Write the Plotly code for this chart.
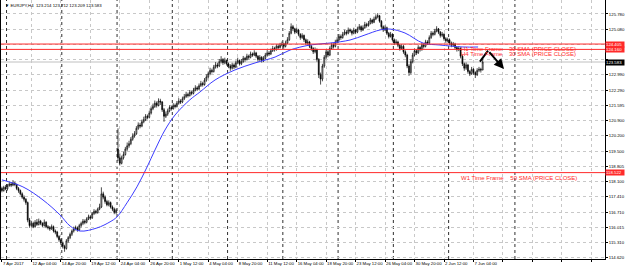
import plotly.graph_objects as go

# ---------------- data (EURJPY H4) ----------------
opens = [117.80,117.70,117.85,117.78,117.92,118.00,117.95,118.05,117.98,117.80,
117.70,117.55,117.40,117.30,117.15,116.35,116.10,116.20,116.05,116.25,
116.15,116.30,116.20,116.10,116.25,116.05,116.00,115.95,116.05,115.85,
115.80,115.60,115.45,115.30,115.15,115.05,115.40,115.55,115.70,115.85,
115.95,116.00,115.90,116.10,116.20,116.30,116.25,116.40,116.50,116.45,
116.65,116.75,116.70,116.85,116.95,117.55,117.40,117.20,117.05,117.15,
116.95,116.85,116.70,119.60,119.20,118.95,119.20,119.35,119.60,119.75,
119.85,120.05,120.20,120.30,120.55,120.70,120.65,120.85,120.95,121.10,
121.05,121.25,121.45,121.55,121.70,121.60,121.80,121.75,121.40,121.10,
121.20,121.35,121.50,121.45,121.60,121.55,121.70,121.80,121.75,121.90,
122.00,122.10,122.05,122.20,122.15,122.30,122.40,122.35,122.50,122.60,
122.55,122.75,122.90,123.05,123.20,123.15,123.35,123.45,123.40,123.60,
123.70,123.55,123.65,123.50,123.40,123.30,123.45,123.35,123.55,123.65,
123.50,123.60,123.75,123.70,123.85,123.80,123.95,123.90,124.00,123.85,
123.70,123.80,123.65,123.75,123.90,124.00,123.95,124.10,124.20,124.15,
124.30,124.25,124.35,124.40,124.30,124.45,124.60,124.90,125.20,125.10,
124.95,125.05,124.85,124.70,124.80,124.60,124.45,124.50,124.30,124.20,
124.05,124.15,123.70,123.00,122.80,123.40,123.80,124.05,123.90,124.20,
124.35,124.30,124.50,124.60,124.75,124.70,124.85,124.95,124.90,125.05,
125.00,124.90,125.05,124.95,125.10,125.20,125.05,125.15,125.30,125.25,
125.35,125.50,125.40,125.55,125.65,125.70,125.45,125.20,125.05,125.15,
124.90,124.75,124.85,124.60,124.45,124.50,124.35,124.20,124.30,124.05,
123.90,123.40,123.10,123.60,123.90,124.10,124.00,124.25,124.15,124.35,
124.30,124.50,124.45,124.70,124.90,124.85,125.00,125.10,124.95,124.80,
124.85,124.65,124.55,124.60,124.45,124.35,124.40,124.25,124.15,124.20,
123.85,123.50,123.30,123.45,123.15,123.05,123.25,123.10,123.00,123.20,
123.25,123.214]

highs = [117.88,117.92,117.95,118.00,118.10,118.08,118.18,118.10,118.02,117.86,
117.75,117.62,117.48,117.36,117.20,116.45,116.32,116.28,116.35,116.40,
116.42,116.36,116.25,116.38,116.30,116.12,116.08,116.15,116.10,115.92,
115.86,115.66,115.52,115.38,115.22,115.48,115.62,115.78,115.92,116.05,
116.10,116.06,116.18,116.28,116.40,116.38,116.48,116.60,116.58,116.72,
116.85,116.82,116.92,117.10,117.85,117.65,117.48,117.28,117.25,117.20,
117.02,116.92,116.88,120.55,119.40,119.30,119.48,119.70,119.90,119.98,
120.15,120.32,120.42,120.65,120.82,120.80,120.95,121.08,121.20,121.18,
121.35,121.55,121.68,121.82,121.78,121.92,121.90,121.80,121.48,121.32,
121.45,121.60,121.58,121.70,121.68,121.80,121.92,121.88,122.00,122.12,
122.22,122.18,122.30,122.28,122.40,122.52,122.48,122.60,122.72,122.68,
122.85,123.02,123.15,123.32,123.28,123.45,123.58,123.55,123.72,123.85,
123.76,123.78,123.70,123.56,123.48,123.55,123.52,123.65,123.78,123.70,
123.72,123.86,123.82,123.96,123.92,124.06,124.02,124.12,124.05,123.90,
123.90,123.85,123.85,124.00,124.12,124.08,124.20,124.32,124.28,124.40,
124.38,124.46,124.52,124.46,124.56,124.72,125.00,125.35,125.28,125.15,
125.16,125.10,124.90,124.90,124.84,124.66,124.62,124.55,124.36,124.26,
124.25,124.20,123.76,123.10,123.50,123.90,124.15,124.12,124.30,124.46,
124.44,124.60,124.72,124.86,124.84,124.96,125.06,125.04,125.16,125.12,
125.06,125.15,125.10,125.20,125.32,125.26,125.26,125.42,125.38,125.46,
125.60,125.56,125.66,125.76,125.82,125.74,125.50,125.26,125.26,125.20,
124.96,124.96,124.90,124.66,124.62,124.56,124.40,124.40,124.36,124.12,
123.96,123.48,123.70,124.00,124.20,124.16,124.35,124.30,124.46,124.44,
124.60,124.58,124.80,125.00,124.98,125.10,125.22,125.14,125.00,124.96,
124.90,124.72,124.70,124.66,124.52,124.50,124.46,124.30,124.30,124.26,
123.92,123.56,123.56,123.50,123.22,123.36,123.30,123.16,123.30,123.36,
123.32,123.712]

lows = [117.62,117.65,117.72,117.70,117.88,117.86,117.90,117.90,117.72,117.60,
117.48,117.32,117.20,117.05,116.25,116.00,116.02,115.98,116.00,116.08,
116.10,116.12,116.02,116.05,115.98,115.92,115.86,115.90,115.78,115.70,
115.52,115.36,115.20,115.05,114.90,115.00,115.32,115.48,115.62,115.78,
115.88,115.82,115.85,116.02,116.12,116.16,116.20,116.35,116.36,116.40,
116.58,116.62,116.64,116.80,116.90,117.30,117.10,116.98,116.98,116.88,
116.76,116.62,116.62,119.05,118.85,118.90,119.12,119.30,119.52,119.66,
119.78,119.98,120.12,120.25,120.48,120.55,120.60,120.78,120.88,120.96,
121.00,121.18,121.38,121.48,121.50,121.55,121.62,121.30,120.85,121.02,
121.12,121.28,121.36,121.40,121.46,121.50,121.64,121.66,121.70,121.84,
121.94,121.96,122.00,122.06,122.10,122.24,122.26,122.30,122.44,122.46,
122.50,122.68,122.84,122.98,123.06,123.10,123.28,123.30,123.35,123.52,
123.45,123.48,123.42,123.30,123.18,123.24,123.26,123.30,123.48,123.42,
123.44,123.55,123.60,123.65,123.70,123.75,123.82,123.85,123.76,123.60,
123.62,123.56,123.58,123.70,123.84,123.86,123.90,124.04,124.06,124.10,
124.16,124.20,124.30,124.20,124.25,124.40,124.55,124.85,125.00,124.86,
124.90,124.76,124.60,124.64,124.50,124.36,124.38,124.22,124.10,123.95,
123.98,123.60,122.85,122.55,122.70,123.32,123.72,123.80,123.85,124.14,
124.20,124.25,124.44,124.55,124.60,124.65,124.80,124.80,124.85,124.92,
124.80,124.85,124.86,124.90,125.04,124.96,125.00,125.10,125.16,125.20,
125.30,125.32,125.36,125.50,125.58,125.38,125.10,124.96,125.00,124.82,
124.66,124.70,124.52,124.36,124.38,124.26,124.10,124.14,123.96,123.80,
123.30,122.95,123.02,123.52,123.84,123.90,123.95,124.06,124.10,124.20,
124.25,124.36,124.40,124.64,124.76,124.80,124.94,124.86,124.70,124.72,
124.56,124.46,124.48,124.36,124.26,124.28,124.16,124.06,124.08,123.75,
123.40,123.18,123.22,123.05,122.94,123.00,123.00,122.85,122.94,123.12,
123.10,123.209]

closes = [117.70,117.85,117.78,117.92,118.00,117.95,118.05,117.98,117.80,117.70,
117.55,117.40,117.30,117.15,116.35,116.10,116.20,116.05,116.25,116.15,
116.30,116.20,116.10,116.25,116.05,116.00,115.95,116.05,115.85,115.80,
115.60,115.45,115.30,115.15,115.05,115.40,115.55,115.70,115.85,115.95,
116.00,115.90,116.10,116.20,116.30,116.25,116.40,116.50,116.45,116.65,
116.75,116.70,116.85,116.95,117.55,117.40,117.20,117.05,117.15,116.95,
116.85,116.70,116.80,119.20,118.95,119.20,119.35,119.60,119.75,119.85,
120.05,120.20,120.30,120.55,120.70,120.65,120.85,120.95,121.10,121.05,
121.25,121.45,121.55,121.70,121.60,121.80,121.75,121.40,121.10,121.20,
121.35,121.50,121.45,121.60,121.55,121.70,121.80,121.75,121.90,122.00,
122.10,122.05,122.20,122.15,122.30,122.40,122.35,122.50,122.60,122.55,
122.75,122.90,123.05,123.20,123.15,123.35,123.45,123.40,123.60,123.70,
123.55,123.65,123.50,123.40,123.30,123.45,123.35,123.55,123.65,123.50,
123.60,123.75,123.70,123.85,123.80,123.95,123.90,124.00,123.85,123.70,
123.80,123.65,123.75,123.90,124.00,123.95,124.10,124.20,124.15,124.30,
124.25,124.35,124.40,124.30,124.45,124.60,124.90,125.20,125.10,124.95,
125.05,124.85,124.70,124.80,124.60,124.45,124.50,124.30,124.20,124.05,
124.15,123.70,123.00,122.80,123.40,123.80,124.05,123.90,124.20,124.35,
124.30,124.50,124.60,124.75,124.70,124.85,124.95,124.90,125.05,125.00,
124.90,125.05,124.95,125.10,125.20,125.05,125.15,125.30,125.25,125.35,
125.50,125.40,125.55,125.65,125.70,125.45,125.20,125.05,125.15,124.90,
124.75,124.85,124.60,124.45,124.50,124.35,124.20,124.30,124.05,123.90,
123.40,123.10,123.60,123.90,124.10,124.00,124.25,124.15,124.35,124.30,
124.50,124.45,124.70,124.90,124.85,125.00,125.10,124.95,124.80,124.85,
124.65,124.55,124.60,124.45,124.35,124.40,124.25,124.15,124.20,123.85,
123.50,123.30,123.45,123.15,123.05,123.25,123.10,123.00,123.20,123.25,
123.214,123.583]

bars = list(range(len(closes)))

# moving average (blue line), read at sample bars
ma_bars = [0, 11.4, 22.3, 31.5, 37, 42.4, 51.6, 58.7, 62.5, 67.9, 73.3, 78.8, 83.1,
           88.5, 94, 102, 107.5, 115.7, 126.5, 137.4, 148.3, 156.4, 167.3, 178.1,
           189, 197.1, 205.3, 210.7, 218.8, 228.6, 237.8, 250.3, 258.5]
ma_vals = [118.19, 117.87, 117.27, 116.59, 116.08, 115.85, 115.99, 116.27, 116.50,
           117.14, 117.87, 118.78, 119.56, 120.47, 121.16, 121.85, 122.21, 122.76,
           123.22, 123.54, 123.81, 124.13, 124.36, 124.45, 124.59, 124.82, 125.05,
           125.09, 124.91, 124.45, 124.36, 124.27, 124.27]

# time axis labels every 16 bars
time_tick_bars = [0, 16, 32, 48, 64, 80, 96, 112, 128, 144, 160, 176, 192, 208, 224, 240,
                  256, 272, 288, 304, 320]
time_tick_text = ["7 Apr 2017", "12 Apr 04:00", "14 Apr 20:00", "19 Apr 12:00",
                  "24 Apr 04:00", "26 Apr 20:00", "1 May 12:00", "4 May 04:00",
                  "8 May 20:00", "11 May 12:00", "16 May 04:00", "18 May 20:00",
                  "23 May 12:00", "26 May 04:00", "30 May 20:00", "2 Jun 12:00",
                  "7 Jun 04:00", "", "", "", ""]
week_start_bars = [3, 33, 63, 93, 123, 153, 183, 213, 243, 279]

# price scale (labels hidden behind the coloured price boxes are left blank)
price_ticks = [125.780, 125.083, 124.385, 123.688, 122.990, 122.292, 121.595, 120.897,
               120.200, 119.503, 118.805, 118.108, 117.410, 116.712, 116.015, 115.318,
               114.620]
price_tick_text = ["125.780", "125.080", "", "", "122.990", "122.290",
                   "121.595", "120.900", "120.200", "119.500", "118.805", "118.100",
                   "117.410", "116.710", "116.015", "115.310", "114.620"]

sma_levels = [124.405, 124.160, 118.522]
sma_labels = ["124.405", "124.160", "118.522"]
sma_texts = ["H1 Time Frame    30 SMA (PRICE CLOSE)",
             "H4 Time Frame    30 SMA (PRICE CLOSE)",
             "W1 Time Frame    50 SMA (PRICE CLOSE)"]
sma_text_bar = 248
last_price = 123.583

arrow_bars = [259.5, 263.9, 272.6]
arrow_prices = [123.60, 124.10, 123.26]

title_text = "\u25bc EURJPY,H4  123.214 123.712 123.209 123.583"

# ---------------- figure ----------------
FONT = "Liberation Sans"
RED = "#ff2a2a"
AX_FS = 4.3

fig = go.Figure()
fig.add_trace(go.Candlestick(
    x=bars, open=opens, high=highs, low=lows, close=closes,
    increasing=dict(line=dict(color="black", width=0.7), fillcolor="white"),
    decreasing=dict(line=dict(color="black", width=0.7), fillcolor="black"),
    whiskerwidth=0, showlegend=False, hoverinfo="skip"))
fig.add_trace(go.Scatter(x=ma_bars, y=ma_vals, mode="lines",
                         line=dict(color="#3c3cff", width=1), line_shape="spline",
                         showlegend=False, hoverinfo="skip"))
fig.add_trace(go.Scatter(x=arrow_bars[:2], y=arrow_prices[:2], mode="lines",
                         line=dict(color="black", width=2), showlegend=False,
                         hoverinfo="skip"))

shapes = []
for b in week_start_bars:
    shapes.append(dict(type="line", xref="x", yref="paper", x0=b - 0.5, x1=b - 0.5,
                       y0=0, y1=1, layer="below",
                       line=dict(color="#303030", width=1, dash="dot")))
shapes.append(dict(type="line", xref="paper", yref="y", x0=0, x1=1, y0=last_price,
                   y1=last_price, layer="below", line=dict(color="#c0c0c0", width=1)))
for lv in sma_levels:
    shapes.append(dict(type="line", xref="paper", yref="y", x0=0, x1=1, y0=lv, y1=lv,
                       line=dict(color=RED, width=1)))

annotations = []
annotations.append(dict(xref="paper", yref="paper", x=0.004, y=0.995, xanchor="left",
                        yanchor="top", text=title_text, showarrow=False,
                        font=dict(family=FONT, size=AX_FS, color="black")))
for lv, lab, txt in zip(sma_levels, sma_labels, sma_texts):
    annotations.append(dict(xref="paper", yref="y", x=1, y=lv, xanchor="left",
                            yanchor="middle", text=lab, showarrow=False, width=18,
                            height=5, bgcolor=RED, borderpad=0, align="left",
                            font=dict(family=FONT, size=AX_FS, color="white")))
    annotations.append(dict(xref="x", yref="y", x=sma_text_bar, y=lv, xanchor="left",
                            yanchor="top", text=txt, showarrow=False, yshift=0,
                            font=dict(family=FONT, size=6, color=RED)))
annotations.append(dict(xref="paper", yref="y", x=1, y=last_price, xanchor="left",
                        yanchor="middle", text=f"{last_price:.3f}", showarrow=False,
                        width=18, height=5, bgcolor="black", borderpad=0, align="left",
                        font=dict(family=FONT, size=AX_FS, color="white")))
annotations.append(dict(xref="x", yref="y", axref="x", ayref="y",
                        x=arrow_bars[2], y=arrow_prices[2],
                        ax=arrow_bars[1], ay=arrow_prices[1], text="", showarrow=True,
                        arrowhead=2, arrowsize=1, arrowwidth=2, arrowcolor="black"))

fig.update_layout(
    width=625, height=269, margin=dict(l=1, r=20, t=0, b=10, autoexpand=False),
    paper_bgcolor="white", plot_bgcolor="white",
    font=dict(family=FONT, size=AX_FS, color="black"),
    shapes=shapes, annotations=annotations, showlegend=False,
    xaxis=dict(range=[-0.5, 327.4], rangeslider=dict(visible=False),
               tickvals=time_tick_bars, ticktext=time_tick_text, tickangle=0,
               automargin=False,
               ticklabelposition="outside right", ticks="outside", ticklen=2,
               tickcolor="black", showgrid=True, gridcolor="#c8c8c8", griddash="dot",
               gridwidth=1, showline=True, linecolor="black", linewidth=1,
               zeroline=False, tickfont=dict(family=FONT, size=AX_FS, color="black")),
    yaxis=dict(range=[114.57, 126.42], side="right", tickvals=price_ticks,
               ticktext=price_tick_text, ticks="outside", ticklen=2, tickcolor="black",
               automargin=False,
               showgrid=True, gridcolor="#c8c8c8", griddash="dot", gridwidth=1,
               showline=True, linecolor="black", linewidth=1, mirror=True,
               zeroline=False, tickfont=dict(family=FONT, size=AX_FS, color="black")),
)

fig.write_html("out.html")
